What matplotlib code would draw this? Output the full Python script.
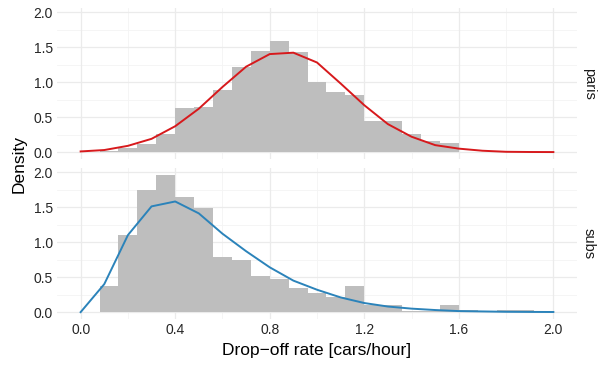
import numpy as np
import matplotlib
matplotlib.use('Agg')
import matplotlib.pyplot as plt

plt.rcParams['font.family'] = ['Liberation Sans', 'DejaVu Sans']

# histogram bins (width 0.08 from 0 to 2.0)
bin_width = 0.08
bin_left = np.arange(25) * bin_width

paris_hist = [0.005, 0.02, 0.065, 0.12, 0.26, 0.63, 0.65, 0.89, 1.22, 1.45,
              1.59, 1.43, 1.00, 0.86, 0.82, 0.45, 0.45, 0.26, 0.16, 0.13,
              0.0, 0.0, 0.0, 0.0, 0.0]
subs_hist = [0.008, 0.38, 1.10, 1.75, 1.96, 1.65, 1.48, 0.79, 0.75, 0.52,
             0.48, 0.35, 0.28, 0.21, 0.38, 0.10, 0.10, 0.02, 0.01, 0.10,
             0.03, 0.0, 0.03, 0.03, 0.0]

# fitted density evaluated at 0.0, 0.1, ..., 2.0
line_x = [0.0, 0.1, 0.2, 0.3, 0.4, 0.5, 0.6, 0.7, 0.8, 0.9, 1.0,
          1.1, 1.2, 1.3, 1.4, 1.5, 1.6, 1.7, 1.8, 1.9, 2.0]
paris_fit = [0.01, 0.03, 0.09, 0.19, 0.37, 0.62, 0.93, 1.22, 1.40, 1.42, 1.28,
             0.98, 0.67, 0.40, 0.22, 0.10, 0.05, 0.02, 0.005, 0.002, 0.001]
subs_fit = [0.0, 0.40, 1.10, 1.51, 1.58, 1.41, 1.12, 0.87, 0.64, 0.45, 0.32,
            0.21, 0.13, 0.08, 0.05, 0.03, 0.015, 0.01, 0.005, 0.003, 0.002]

panels = [('paris', paris_hist, paris_fit, '#D7191C'),
          ('subs', subs_hist, subs_fit, '#2B83BA')]

W, H = 608, 365
fig = plt.figure(figsize=(W / 100, H / 100), dpi=100)

left, right = 57, 577
tops = [8, 168]
ph = 151

for k, (name, hist, fit, col) in enumerate(panels):
    top = tops[k]
    ax = fig.add_axes([left / W, 1 - (top + ph) / H, (right - left) / W, ph / H])
    ax.set_xlim(-0.1, 2.1)
    ax.set_ylim(-0.098, 2.058)
    for x in [0.2, 0.6, 1.0, 1.4, 1.8]:
        ax.axvline(x, color='#F4F4F4', lw=0.6, zorder=0)
    for y in [0.25, 0.75, 1.25, 1.75]:
        ax.axhline(y, color='#F4F4F4', lw=0.6, zorder=0)
    for x in [0.0, 0.4, 0.8, 1.2, 1.6, 2.0]:
        ax.axvline(x, color='#EBEBEB', lw=0.9, zorder=0)
    for y in [0.0, 0.5, 1.0, 1.5, 2.0]:
        ax.axhline(y, color='#EBEBEB', lw=0.9, zorder=0)
    ax.bar(bin_left, hist, width=bin_width, align='edge', color='#BEBEBE',
           linewidth=0, zorder=2)
    ax.plot(line_x, fit, color=col, lw=1.4, zorder=3)
    for s in ax.spines.values():
        s.set_visible(False)
    ax.set_yticks([0.0, 0.5, 1.0, 1.5, 2.0])
    ax.set_yticklabels(['0.0', '0.5', '1.0', '1.5', '2.0'])
    ax.set_xticks([0.0, 0.4, 0.8, 1.2, 1.6, 2.0])
    if k == 0:
        ax.set_xticklabels([])
    else:
        ax.set_xticklabels(['0.0', '0.4', '0.8', '1.2', '1.6', '2.0'])
    ax.tick_params(length=0, labelsize=10, labelcolor='#262626', pad=3)
    fig.text(589 / W, 1 - (top + ph / 2) / H, name, rotation=-90,
             ha='center', va='center', fontsize=10.5, color='#1A1A1A')

fig.text(19 / W, 1 - 164 / H, 'Density', rotation=90, ha='center',
         va='center', fontsize=12.5, color='black')
fig.text(317 / W, 1 - 351 / H, 'Drop\u2212off rate [cars/hour]', ha='center',
         va='center', fontsize=12.5, color='black')

fig.savefig('out.png', dpi=100, facecolor='white')
